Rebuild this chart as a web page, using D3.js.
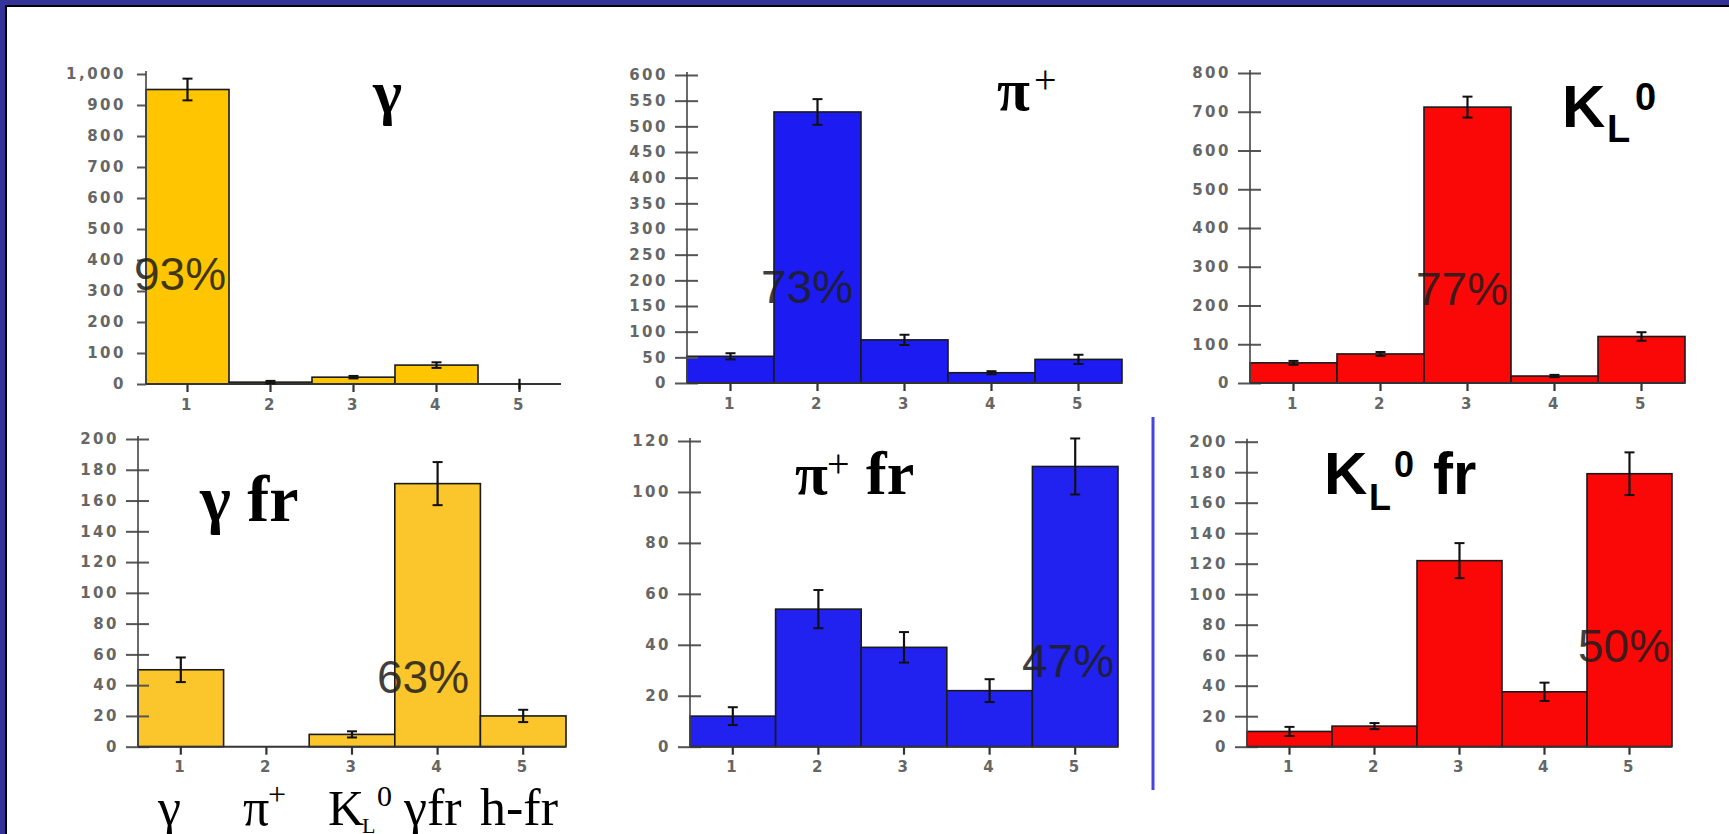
<!DOCTYPE html>
<html lang="en">
<head>
<meta charset="UTF-8">
<title>Particle ID purity</title>
<script src="https://d3js.org/d3.v7.min.js"></script>
<style>
  html, body { margin:0; padding:0; background:#fff; overflow:hidden; }
  svg { display:block; }
  .tick text { font-family:"DejaVu Sans", sans-serif; font-size:15px; font-weight:bold; fill:#666; letter-spacing:2.5px; }
  .pct { font-family:"Liberation Sans", Arial, sans-serif; font-size:46px; fill:#1e1e1e; opacity:.85; }
  .serif { font-family:"Liberation Serif", "Times New Roman", serif; fill:#000; }
  .sans { font-family:"Liberation Sans", Arial, sans-serif; font-weight:bold; fill:#000; }
</style>
</head>
<body>
<script>
const categories = [1, 2, 3, 4, 5];

const gammaCounts   = [950, 6, 22, 61, 0];
const gammaErrors   = [35, 4, 4, 9, 17];
const pionCounts    = [52, 528, 84, 20, 46];
const pionErrors    = [6, 25, 10, 3, 9];
const kaonCounts    = [52, 75, 712, 18, 120];
const kaonErrors    = [5, 5, 27, 3, 11];
const gammaFrCounts = [50, 0, 8, 171, 20];
const gammaFrErrors = [8, 0, 2, 14, 4];
const pionFrCounts  = [12, 54, 39, 22, 110];
const pionFrErrors  = [3.5, 7.5, 6, 4.5, 11];
const kaonFrCounts  = [10, 13.5, 122, 36, 179];
const kaonFrErrors  = [3, 2, 11.5, 6, 14];

const ticks1000 = [0, 100, 200, 300, 400, 500, 600, 700, 800, 900, 1000];
const ticks600  = [0, 50, 100, 150, 200, 250, 300, 350, 400, 450, 500, 550, 600];
const ticks800  = [0, 100, 200, 300, 400, 500, 600, 700, 800];
const ticks200  = [0, 20, 40, 60, 80, 100, 120, 140, 160, 180, 200];
const ticks120  = [0, 20, 40, 60, 80, 100, 120];

const purity = ["93%", "73%", "77%", "63%", "47%", "50%"];
const bottomLabels = ["γ", "π", "K", "γfr", "h-fr"];

const W = 1729, H = 834;
const svg = d3.select("body").append("svg").attr("width", W).attr("height", H);

// slide frame
svg.append("rect").attr("x", 0).attr("y", 0).attr("width", W).attr("height", 5).attr("fill", "#333399");
svg.append("rect").attr("x", 0).attr("y", 0).attr("width", 5).attr("height", H).attr("fill", "#333399");
svg.append("rect").attr("x", 5).attr("y", 5).attr("width", W - 5).attr("height", 2).attr("fill", "#000");
svg.append("rect").attr("x", 5).attr("y", 5).attr("width", 2).attr("height", H - 5).attr("fill", "#000");

const panels = [
  {counts: gammaCounts, errors: gammaErrors, ticks: ticks1000, color: "#ffc600", fmt: d3.format(","),
   x0: 146, x1: 561, base: 384, top: 74, cross: false, pct: [134, 290]},
  {counts: pionCounts, errors: pionErrors, ticks: ticks600, color: "#1c1cf2", fmt: d3.format("d"),
   x0: 687, x1: 1122, base: 383, top: 75, cross: true, pct: [761, 303]},
  {counts: kaonCounts, errors: kaonErrors, ticks: ticks800, color: "#fa0808", fmt: d3.format("d"),
   x0: 1250, x1: 1685, base: 383, top: 73, cross: true, pct: [1416, 305]},
  {counts: gammaFrCounts, errors: gammaFrErrors, ticks: ticks200, color: "#fbc52c", fmt: d3.format("d"),
   x0: 138, x1: 566, base: 746.7, top: 439, cross: true, pct: [377, 693]},
  {counts: pionFrCounts, errors: pionFrErrors, ticks: ticks120, color: "#2222f0", fmt: d3.format("d"),
   x0: 690, x1: 1118, base: 746.7, top: 441, cross: true, pct: [1022, 677]},
  {counts: kaonFrCounts, errors: kaonFrErrors, ticks: ticks200, color: "#fa0808", fmt: d3.format("d"),
   x0: 1247, x1: 1672, base: 746.7, top: 441.7, cross: true, pct: [1578, 662]}
];

panels.forEach((p, i) => {
  const g = svg.append("g");

  const x = d3.scaleBand().domain(categories).range([p.x0, p.x1]).padding(0);
  const y = d3.scaleLinear().domain([0, d3.max(p.ticks)]).range([p.base, p.top]);
  const data = categories.map((c, k) => ({c, v: p.counts[k], e: p.errors[k]}));

  // bars
  g.selectAll(".bar").data(data.filter(d => d.v > 0)).join("rect")
    .attr("x", d => x(d.c)).attr("width", x.bandwidth())
    .attr("y", d => y(d.v)).attr("height", d => y(0) - y(d.v))
    .attr("fill", p.color).attr("stroke", "#1a1a1a").attr("stroke-width", 1.6);

  // y axis
  const yAxis = g.append("g").attr("transform", `translate(${p.x0},0)`)
    .call(d3.axisLeft(y).tickValues(p.ticks).tickFormat(p.fmt).tickSize(p.cross ? 0 : 9).tickPadding(p.cross ? 19 : 11));
  yAxis.select(".domain").remove();
  yAxis.selectAll(".tick line").attr("stroke", "#555").attr("stroke-width", 2);
  if (p.cross) yAxis.selectAll(".tick line").attr("x1", -12).attr("x2", 11);
  yAxis.append("line").attr("x1", 0).attr("x2", 0).attr("y1", p.top - 3).attr("y2", p.base)
    .attr("stroke", "#444").attr("stroke-width", 1.6);

  // x axis
  const xAxis = g.append("g").attr("transform", `translate(0,${p.base})`)
    .call(d3.axisBottom(x).tickSize(8).tickPadding(7));
  xAxis.select(".domain").remove();
  xAxis.selectAll(".tick line").attr("stroke", "#333").attr("stroke-width", 2.2);
  g.append("line").attr("x1", p.x0).attr("x2", p.x1).attr("y1", p.base).attr("y2", p.base)
    .attr("stroke", "#333").attr("stroke-width", 2);

  // error bars
  const eb = g.selectAll(".err").data(data.filter(d => d.e > 0)).join("g")
    .attr("transform", d => `translate(${x(d.c) + x.bandwidth() / 2},0)`);
  eb.append("line").attr("y1", d => y(d.v - d.e)).attr("y2", d => y(d.v + d.e))
    .attr("stroke", "#111").attr("stroke-width", 2.2);
  eb.filter(d => d.v > 0).append("line").attr("x1", -5).attr("x2", 5)
    .attr("y1", d => y(d.v + d.e)).attr("y2", d => y(d.v + d.e))
    .attr("stroke", "#111").attr("stroke-width", 2);
  eb.filter(d => d.v > 0).append("line").attr("x1", -5).attr("x2", 5)
    .attr("y1", d => y(d.v - d.e)).attr("y2", d => y(d.v - d.e))
    .attr("stroke", "#111").attr("stroke-width", 2);

  svg.append("text").attr("class", "pct").attr("x", p.pct[0]).attr("y", p.pct[1]).text(purity[i]);
});

// panel titles
function serif(x, y, size, txt, bold) {
  return svg.append("text").attr("class", "serif").attr("x", x).attr("y", y)
    .attr("font-size", size).attr("font-weight", bold ? "bold" : "normal").text(txt);
}
function sans(x, y, size, txt) {
  return svg.append("text").attr("class", "sans").attr("x", x).attr("y", y).attr("font-size", size).text(txt);
}
serif(373, 113, 62, "γ", true);

serif(997, 110, 60, "π", true);
serif(1034, 93, 40, "+", false);

sans(1562, 127, 60, "K");
sans(1607, 142, 38, "L");
sans(1635, 110, 38, "0");

serif(200, 521, 66, "γ fr", true);

serif(795, 494, 60, "π", true);
serif(827, 477, 40, "+", false);
serif(866, 494, 62, "fr", true);

sans(1324, 494, 60, "K");
sans(1369, 510, 36, "L");
sans(1394, 477, 36, "0");
sans(1433, 494, 60, "fr");

// bottom category names
serif(158, 825, 52, bottomLabels[0], false);
serif(243, 825, 52, bottomLabels[1], false);
serif(268, 805, 32, "+", false);
serif(328, 825, 50, bottomLabels[2], false);
serif(362, 833, 22, "L", false);
serif(377, 806, 30, "0", false);
serif(404, 825, 52, bottomLabels[3], false);
serif(480, 825, 52, bottomLabels[4], false);

// divider line between bottom panels
svg.append("line").attr("x1", 1153).attr("x2", 1153).attr("y1", 417).attr("y2", 790)
  .attr("stroke", "#4444e6").attr("stroke-width", 3);
</script>
</body>
</html>
